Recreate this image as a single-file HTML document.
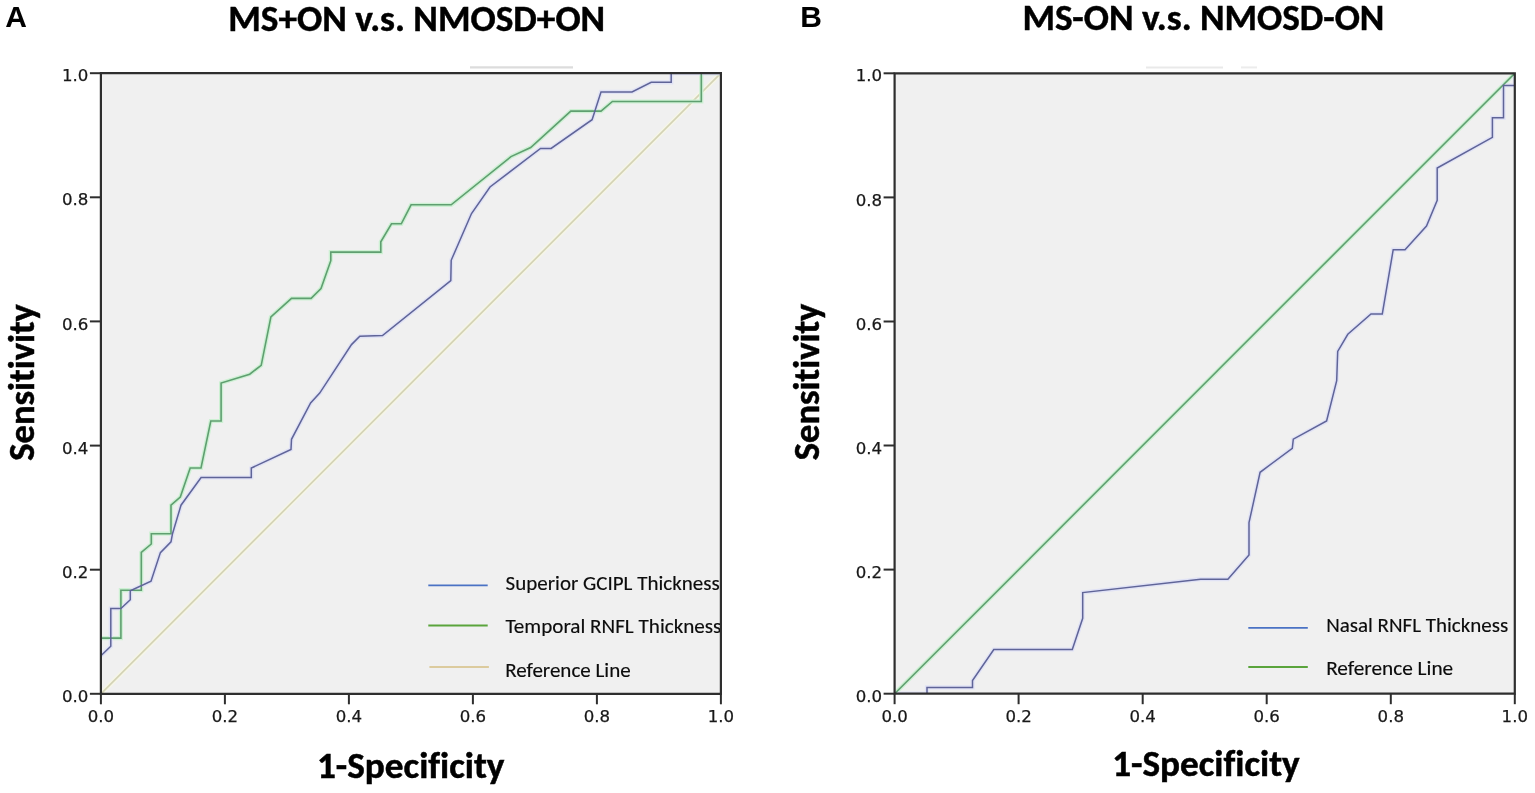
<!DOCTYPE html>
<html><head><meta charset="utf-8"><title>ROC curves</title>
<style>
html,body{margin:0;padding:0;background:#fff;}
svg{display:block;}
</style></head><body>
<svg width="1535" height="793" viewBox="0 0 1535 793">
<defs>
<clipPath id="clipA"><rect x="100" y="72" width="620" height="622"/></clipPath>
<clipPath id="clipB"><rect x="894" y="72" width="620" height="622"/></clipPath>
</defs>
<rect x="0" y="0" width="1535" height="793" fill="#fff"/>

<line x1="470" y1="67.4" x2="573" y2="67.4" stroke="#dcdcdc" stroke-width="2.2"/>
<line x1="1146" y1="67.4" x2="1223" y2="67.4" stroke="#e9e9e9" stroke-width="2"/>
<line x1="1241" y1="67.4" x2="1257" y2="67.4" stroke="#ececec" stroke-width="2"/>
<text x="5.2" y="26.8" style="font-family:'Liberation Sans',sans-serif;font-weight:bold;font-size:30px;fill:#000">A</text>
<text x="800.2" y="26.8" style="font-family:'Liberation Sans',sans-serif;font-weight:bold;font-size:30px;fill:#000">B</text>
<text x="228.2" y="30.6" textLength="377" lengthAdjust="spacingAndGlyphs" style="font-family:Carlito,'Liberation Sans',sans-serif;font-variant-ligatures:none;font-feature-settings:'liga' 0;font-size-adjust:0.4849;font-weight:bold;font-size:36.5px;fill:#000;stroke:#000;stroke-width:0.45px">MS+ON v.s. NMOSD+ON</text>
<text x="1022.4" y="30.0" textLength="362" lengthAdjust="spacingAndGlyphs" style="font-family:Carlito,'Liberation Sans',sans-serif;font-variant-ligatures:none;font-feature-settings:'liga' 0;font-size-adjust:0.4849;font-weight:bold;font-size:36.5px;fill:#000;stroke:#000;stroke-width:0.45px">MS-ON v.s. NMOSD-ON</text>
<rect x="100.9" y="73.2" width="620.0" height="620.6" fill="#f0f0f0"/>
<rect x="894.6" y="73.3" width="620.2" height="620.4" fill="#f0f0f0"/>
<line x1="100.9" y1="693.8" x2="720.9" y2="73.2" stroke="#f6f6e6" stroke-width="4.5"/>
<line x1="100.9" y1="693.8" x2="720.9" y2="73.2" stroke="#d4d3b6" stroke-width="1.7"/>
<g clip-path="url(#clipA)" fill="none" stroke-linejoin="miter">
<polyline points="100.9,638.1 120.9,638.1 120.9,590.2 141.3,590.2 141.3,552.4 151.3,544.0 151.3,533.7 171.0,533.7 171.0,505.2 180.3,497.0 190.2,468.0 201.0,468.0 210.8,421.0 221.1,421.0 221.1,383.0 249.7,374.2 261.2,365.3 270.9,316.8 291.5,298.4 311.1,298.4 321.0,288.5 330.8,260.7 330.8,252.1 380.8,252.1 380.8,241.8 391.5,223.8 401.3,223.8 411.1,204.8 451.2,204.8 511.0,156.6 530.7,147.5 570.8,111.1 601.0,111.1 612.4,101.5 701.3,101.5 701.3,73.2 720.9,73.2" stroke="#cdf0d3" stroke-width="4.2"/>
<polyline points="100.9,655.8 110.8,646.3 110.8,608.5 120.9,608.5 130.3,599.7 130.3,590.8 151.0,581.3 160.4,552.6 171.0,541.8 172.5,533.7 181.0,505.2 201.1,477.5 251.3,477.5 251.3,468.0 291.0,449.4 291.5,439.3 310.6,402.9 319.7,393.1 351.5,344.6 359.8,336.3 382.5,335.6 450.8,280.6 451.2,260.3 471.5,213.5 490.0,187.0 540.5,148.4 551.1,148.4 592.1,119.7 601.0,91.9 632.0,91.9 651.2,82.3 671.2,82.3 671.2,73.2 720.9,73.2" stroke="#e0e2f5" stroke-width="4.2"/>
<polyline points="100.9,638.1 120.9,638.1 120.9,590.2 141.3,590.2 141.3,552.4 151.3,544.0 151.3,533.7 171.0,533.7 171.0,505.2 180.3,497.0 190.2,468.0 201.0,468.0 210.8,421.0 221.1,421.0 221.1,383.0 249.7,374.2 261.2,365.3 270.9,316.8 291.5,298.4 311.1,298.4 321.0,288.5 330.8,260.7 330.8,252.1 380.8,252.1 380.8,241.8 391.5,223.8 401.3,223.8 411.1,204.8 451.2,204.8 511.0,156.6 530.7,147.5 570.8,111.1 601.0,111.1 612.4,101.5 701.3,101.5 701.3,73.2 720.9,73.2" stroke="#5f9f70" stroke-width="1.6"/>
<polyline points="100.9,655.8 110.8,646.3 110.8,608.5 120.9,608.5 130.3,599.7 130.3,590.8 151.0,581.3 160.4,552.6 171.0,541.8 172.5,533.7 181.0,505.2 201.1,477.5 251.3,477.5 251.3,468.0 291.0,449.4 291.5,439.3 310.6,402.9 319.7,393.1 351.5,344.6 359.8,336.3 382.5,335.6 450.8,280.6 451.2,260.3 471.5,213.5 490.0,187.0 540.5,148.4 551.1,148.4 592.1,119.7 601.0,91.9 632.0,91.9 651.2,82.3 671.2,82.3 671.2,73.2 720.9,73.2" stroke="#5f6498" stroke-width="1.5"/>
</g>
<g clip-path="url(#clipB)" fill="none">
<line x1="894.6" y1="693.7" x2="1514.8" y2="73.3" stroke="#cdf0d3" stroke-width="4.2"/>
<polyline points="894.6,693.7 927.0,693.7 927.0,687.4 972.5,687.4 972.5,680.6 993.8,649.5 1072.3,649.5 1082.7,618.3 1082.7,592.6 1200.6,579.2 1227.9,579.2 1249.0,555.0 1249.0,522.7 1260.1,472.3 1292.3,448.3 1293.3,439.2 1326.6,421.0 1336.7,380.7 1337.7,351.4 1347.8,334.3 1371.0,313.9 1382.3,313.9 1393.2,249.7 1405.0,249.7 1426.5,226.1 1437.2,200.4 1437.2,168.0 1492.4,137.3 1492.4,117.8 1503.5,117.8 1503.5,85.4 1514.8,85.4 1514.8,73.3" stroke="#e0e2f5" stroke-width="4.2"/>
<line x1="894.6" y1="693.7" x2="1514.8" y2="73.3" stroke="#5f9f70" stroke-width="1.6"/>
<polyline points="894.6,693.7 927.0,693.7 927.0,687.4 972.5,687.4 972.5,680.6 993.8,649.5 1072.3,649.5 1082.7,618.3 1082.7,592.6 1200.6,579.2 1227.9,579.2 1249.0,555.0 1249.0,522.7 1260.1,472.3 1292.3,448.3 1293.3,439.2 1326.6,421.0 1336.7,380.7 1337.7,351.4 1347.8,334.3 1371.0,313.9 1382.3,313.9 1393.2,249.7 1405.0,249.7 1426.5,226.1 1437.2,200.4 1437.2,168.0 1492.4,137.3 1492.4,117.8 1503.5,117.8 1503.5,85.4 1514.8,85.4 1514.8,73.3" stroke="#5f6498" stroke-width="1.5"/>
</g>
<line x1="428.3" y1="585.3" x2="487.7" y2="585.3" stroke="#4a72c4" stroke-width="1.8"/>
<line x1="428.3" y1="625.4" x2="487.7" y2="625.4" stroke="#5aa43c" stroke-width="2"/>
<line x1="429.4" y1="667.0" x2="488.9" y2="667.0" stroke="#dccb9e" stroke-width="1.8"/>
<g clip-path="url(#clipA)">
<text x="505.6" y="590.0" textLength="214" lengthAdjust="spacingAndGlyphs" style="font-family:Carlito,'Liberation Sans',sans-serif;font-variant-ligatures:none;font-feature-settings:'liga' 0;font-size-adjust:0.4775;font-size:20.6px;fill:#0c0c0c;stroke:#0c0c0c;stroke-width:0.15px">Superior GCIPL Thickness</text>
<text x="505.4" y="632.8" textLength="216" lengthAdjust="spacingAndGlyphs" style="font-family:Carlito,'Liberation Sans',sans-serif;font-variant-ligatures:none;font-feature-settings:'liga' 0;font-size-adjust:0.4775;font-size:20.6px;fill:#0c0c0c;stroke:#0c0c0c;stroke-width:0.15px">Temporal RNFL Thickness</text>
<text x="505.2" y="676.7" textLength="125.5" lengthAdjust="spacingAndGlyphs" style="font-family:Carlito,'Liberation Sans',sans-serif;font-variant-ligatures:none;font-feature-settings:'liga' 0;font-size-adjust:0.4775;font-size:20.6px;fill:#0c0c0c;stroke:#0c0c0c;stroke-width:0.15px">Reference Line</text>
</g>
<line x1="1248.3" y1="627.8" x2="1307.8" y2="627.8" stroke="#4a72c4" stroke-width="1.8"/>
<line x1="1248.3" y1="667.1" x2="1307.8" y2="667.1" stroke="#5aa43c" stroke-width="2"/>
<text x="1326.2" y="631.7" textLength="182" lengthAdjust="spacingAndGlyphs" style="font-family:Carlito,'Liberation Sans',sans-serif;font-variant-ligatures:none;font-feature-settings:'liga' 0;font-size-adjust:0.4775;font-size:20.6px;fill:#0c0c0c;stroke:#0c0c0c;stroke-width:0.15px">Nasal RNFL Thickness</text>
<text x="1326.2" y="675.2" textLength="127" lengthAdjust="spacingAndGlyphs" style="font-family:Carlito,'Liberation Sans',sans-serif;font-variant-ligatures:none;font-feature-settings:'liga' 0;font-size-adjust:0.4775;font-size:20.6px;fill:#0c0c0c;stroke:#0c0c0c;stroke-width:0.15px">Reference Line</text>
<path d="M100.9,73.2 H720.9 V693.8 H100.9 Z" fill="none" stroke="#2e2e2e" stroke-width="2.2"/>
<line x1="100.9" y1="693.8" x2="100.9" y2="704.3" stroke="#2e2e2e" stroke-width="2"/>
<line x1="89.9" y1="693.8" x2="100.9" y2="693.8" stroke="#2e2e2e" stroke-width="2"/>
<line x1="224.9" y1="693.8" x2="224.9" y2="704.3" stroke="#2e2e2e" stroke-width="2"/>
<line x1="89.9" y1="569.7" x2="100.9" y2="569.7" stroke="#2e2e2e" stroke-width="2"/>
<line x1="348.9" y1="693.8" x2="348.9" y2="704.3" stroke="#2e2e2e" stroke-width="2"/>
<line x1="89.9" y1="445.6" x2="100.9" y2="445.6" stroke="#2e2e2e" stroke-width="2"/>
<line x1="472.9" y1="693.8" x2="472.9" y2="704.3" stroke="#2e2e2e" stroke-width="2"/>
<line x1="89.9" y1="321.4" x2="100.9" y2="321.4" stroke="#2e2e2e" stroke-width="2"/>
<line x1="596.9" y1="693.8" x2="596.9" y2="704.3" stroke="#2e2e2e" stroke-width="2"/>
<line x1="89.9" y1="197.3" x2="100.9" y2="197.3" stroke="#2e2e2e" stroke-width="2"/>
<line x1="720.9" y1="693.8" x2="720.9" y2="704.3" stroke="#2e2e2e" stroke-width="2"/>
<line x1="89.9" y1="73.2" x2="100.9" y2="73.2" stroke="#2e2e2e" stroke-width="2"/>
<path d="M894.6,73.3 H1514.8 V693.7 H894.6 Z" fill="none" stroke="#2e2e2e" stroke-width="2.2"/>
<line x1="894.6" y1="693.7" x2="894.6" y2="704.2" stroke="#2e2e2e" stroke-width="2"/>
<line x1="883.6" y1="693.7" x2="894.6" y2="693.7" stroke="#2e2e2e" stroke-width="2"/>
<line x1="1018.6" y1="693.7" x2="1018.6" y2="704.2" stroke="#2e2e2e" stroke-width="2"/>
<line x1="883.6" y1="569.6" x2="894.6" y2="569.6" stroke="#2e2e2e" stroke-width="2"/>
<line x1="1142.7" y1="693.7" x2="1142.7" y2="704.2" stroke="#2e2e2e" stroke-width="2"/>
<line x1="883.6" y1="445.5" x2="894.6" y2="445.5" stroke="#2e2e2e" stroke-width="2"/>
<line x1="1266.7" y1="693.7" x2="1266.7" y2="704.2" stroke="#2e2e2e" stroke-width="2"/>
<line x1="883.6" y1="321.5" x2="894.6" y2="321.5" stroke="#2e2e2e" stroke-width="2"/>
<line x1="1390.8" y1="693.7" x2="1390.8" y2="704.2" stroke="#2e2e2e" stroke-width="2"/>
<line x1="883.6" y1="197.4" x2="894.6" y2="197.4" stroke="#2e2e2e" stroke-width="2"/>
<line x1="1514.8" y1="693.7" x2="1514.8" y2="704.2" stroke="#2e2e2e" stroke-width="2"/>
<line x1="883.6" y1="73.3" x2="894.6" y2="73.3" stroke="#2e2e2e" stroke-width="2"/>
<text x="100.9" y="722.4" text-anchor="middle" style="font-family:'DejaVu Sans','Liberation Sans',sans-serif;font-size:16.6px;fill:#181818;stroke:#181818;stroke-width:0.25px">0.0</text>
<text x="88.4" y="701.9" text-anchor="end" style="font-family:'DejaVu Sans','Liberation Sans',sans-serif;font-size:16.6px;fill:#181818;stroke:#181818;stroke-width:0.25px">0.0</text>
<text x="224.9" y="722.4" text-anchor="middle" style="font-family:'DejaVu Sans','Liberation Sans',sans-serif;font-size:16.6px;fill:#181818;stroke:#181818;stroke-width:0.25px">0.2</text>
<text x="88.4" y="577.8" text-anchor="end" style="font-family:'DejaVu Sans','Liberation Sans',sans-serif;font-size:16.6px;fill:#181818;stroke:#181818;stroke-width:0.25px">0.2</text>
<text x="348.9" y="722.4" text-anchor="middle" style="font-family:'DejaVu Sans','Liberation Sans',sans-serif;font-size:16.6px;fill:#181818;stroke:#181818;stroke-width:0.25px">0.4</text>
<text x="88.4" y="453.7" text-anchor="end" style="font-family:'DejaVu Sans','Liberation Sans',sans-serif;font-size:16.6px;fill:#181818;stroke:#181818;stroke-width:0.25px">0.4</text>
<text x="472.9" y="722.4" text-anchor="middle" style="font-family:'DejaVu Sans','Liberation Sans',sans-serif;font-size:16.6px;fill:#181818;stroke:#181818;stroke-width:0.25px">0.6</text>
<text x="88.4" y="329.5" text-anchor="end" style="font-family:'DejaVu Sans','Liberation Sans',sans-serif;font-size:16.6px;fill:#181818;stroke:#181818;stroke-width:0.25px">0.6</text>
<text x="596.9" y="722.4" text-anchor="middle" style="font-family:'DejaVu Sans','Liberation Sans',sans-serif;font-size:16.6px;fill:#181818;stroke:#181818;stroke-width:0.25px">0.8</text>
<text x="88.4" y="205.4" text-anchor="end" style="font-family:'DejaVu Sans','Liberation Sans',sans-serif;font-size:16.6px;fill:#181818;stroke:#181818;stroke-width:0.25px">0.8</text>
<text x="720.9" y="722.4" text-anchor="middle" style="font-family:'DejaVu Sans','Liberation Sans',sans-serif;font-size:16.6px;fill:#181818;stroke:#181818;stroke-width:0.25px">1.0</text>
<text x="88.4" y="81.3" text-anchor="end" style="font-family:'DejaVu Sans','Liberation Sans',sans-serif;font-size:16.6px;fill:#181818;stroke:#181818;stroke-width:0.25px">1.0</text>
<text x="894.6" y="722.3" text-anchor="middle" style="font-family:'DejaVu Sans','Liberation Sans',sans-serif;font-size:16.6px;fill:#181818;stroke:#181818;stroke-width:0.25px">0.0</text>
<text x="882.1" y="701.8" text-anchor="end" style="font-family:'DejaVu Sans','Liberation Sans',sans-serif;font-size:16.6px;fill:#181818;stroke:#181818;stroke-width:0.25px">0.0</text>
<text x="1018.6" y="722.3" text-anchor="middle" style="font-family:'DejaVu Sans','Liberation Sans',sans-serif;font-size:16.6px;fill:#181818;stroke:#181818;stroke-width:0.25px">0.2</text>
<text x="882.1" y="577.7" text-anchor="end" style="font-family:'DejaVu Sans','Liberation Sans',sans-serif;font-size:16.6px;fill:#181818;stroke:#181818;stroke-width:0.25px">0.2</text>
<text x="1142.7" y="722.3" text-anchor="middle" style="font-family:'DejaVu Sans','Liberation Sans',sans-serif;font-size:16.6px;fill:#181818;stroke:#181818;stroke-width:0.25px">0.4</text>
<text x="882.1" y="453.6" text-anchor="end" style="font-family:'DejaVu Sans','Liberation Sans',sans-serif;font-size:16.6px;fill:#181818;stroke:#181818;stroke-width:0.25px">0.4</text>
<text x="1266.7" y="722.3" text-anchor="middle" style="font-family:'DejaVu Sans','Liberation Sans',sans-serif;font-size:16.6px;fill:#181818;stroke:#181818;stroke-width:0.25px">0.6</text>
<text x="882.1" y="329.6" text-anchor="end" style="font-family:'DejaVu Sans','Liberation Sans',sans-serif;font-size:16.6px;fill:#181818;stroke:#181818;stroke-width:0.25px">0.6</text>
<text x="1390.8" y="722.3" text-anchor="middle" style="font-family:'DejaVu Sans','Liberation Sans',sans-serif;font-size:16.6px;fill:#181818;stroke:#181818;stroke-width:0.25px">0.8</text>
<text x="882.1" y="205.5" text-anchor="end" style="font-family:'DejaVu Sans','Liberation Sans',sans-serif;font-size:16.6px;fill:#181818;stroke:#181818;stroke-width:0.25px">0.8</text>
<text x="1514.8" y="722.3" text-anchor="middle" style="font-family:'DejaVu Sans','Liberation Sans',sans-serif;font-size:16.6px;fill:#181818;stroke:#181818;stroke-width:0.25px">1.0</text>
<text x="882.1" y="81.4" text-anchor="end" style="font-family:'DejaVu Sans','Liberation Sans',sans-serif;font-size:16.6px;fill:#181818;stroke:#181818;stroke-width:0.25px">1.0</text>
<text x="317.0" y="778.0" textLength="187.5" lengthAdjust="spacingAndGlyphs" style="font-family:Carlito,'Liberation Sans',sans-serif;font-variant-ligatures:none;font-feature-settings:'liga' 0;font-size-adjust:0.4849;font-weight:bold;font-size:36.5px;fill:#000;stroke:#000;stroke-width:0.5px">1-Specificity</text>
<text x="1112.2" y="775.5" textLength="187.5" lengthAdjust="spacingAndGlyphs" style="font-family:Carlito,'Liberation Sans',sans-serif;font-variant-ligatures:none;font-feature-settings:'liga' 0;font-size-adjust:0.4849;font-weight:bold;font-size:36.5px;fill:#000;stroke:#000;stroke-width:0.5px">1-Specificity</text>
<text transform="translate(33.6,460.7) rotate(-90)" x="0" y="0" textLength="156.6" lengthAdjust="spacingAndGlyphs" style="font-family:Carlito,'Liberation Sans',sans-serif;font-variant-ligatures:none;font-feature-settings:'liga' 0;font-size-adjust:0.4849;font-weight:bold;font-size:36.5px;fill:#000;stroke:#000;stroke-width:0.5px">Sensitivity</text>
<text transform="translate(818.6,460.2) rotate(-90)" x="0" y="0" textLength="156.6" lengthAdjust="spacingAndGlyphs" style="font-family:Carlito,'Liberation Sans',sans-serif;font-variant-ligatures:none;font-feature-settings:'liga' 0;font-size-adjust:0.4849;font-weight:bold;font-size:36.5px;fill:#000;stroke:#000;stroke-width:0.5px">Sensitivity</text>
</svg>
</body></html>
